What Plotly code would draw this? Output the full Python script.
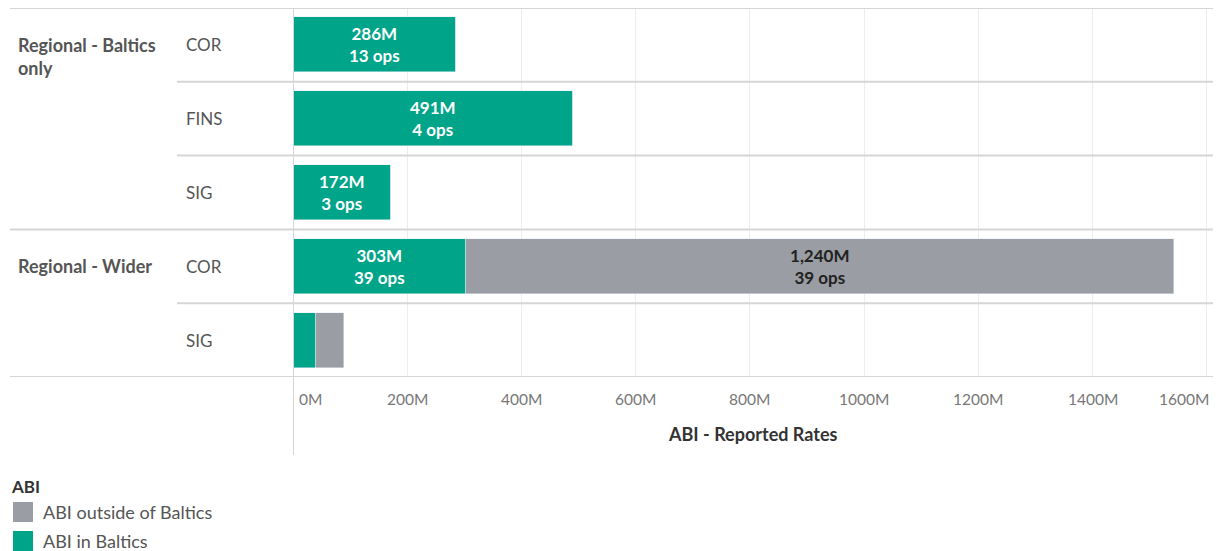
import plotly.graph_objects as go

# --- data -------------------------------------------------------------
groups = ["Regional - Baltics only", "Regional - Baltics only", "Regional - Baltics only",
          "Regional - Wider", "Regional - Wider"]
segments = ["COR", "FINS", "SIG", "COR", "SIG"]
abi_in_baltics = [286, 491, 172, 303, 41]          # M
abi_outside_baltics = [0, 0, 0, 1240, 48]          # M
ops_in_baltics = [13, 4, 3, 39, None]
ops_outside_baltics = [None, None, None, 39, None]
tick_values = [0, 200, 400, 600, 800, 1000, 1200, 1400, 1600]
tick_labels = ["0M", "200M", "400M", "600M", "800M", "1000M", "1200M", "1400M", "1600M"]
axis_title = "ABI - Reported Rates"
legend_title = "ABI"
series_names = ["ABI outside of Baltics", "ABI in Baltics"]

# --- style ------------------------------------------------------------
W, H = 1224, 551
FONT = "Lato"
TEAL = "#00a488"
GREY = "#9a9da3"
LINE = "#d6d6d6"
GRID = "#ececec"
TXT = "#555555"

x_left_px, x_right_px = 293, 1213
y_top_px, y_bot_px = 8, 377
x_max = 1611


def py(px):
    return 1 - px / H


def px_x(px):
    return px / W


rows = list(range(len(segments)))


def bar_text(vals, ops):
    out = []
    for v, o in zip(vals, ops):
        out.append(f"<b>{v:,}M<br>{o} ops</b>" if o is not None else "")
    return out


fig = go.Figure()
fig.add_trace(go.Bar(
    x=abi_in_baltics, y=rows, orientation="h", marker_color=TEAL, width=0.745,
    name=series_names[1],
    text=bar_text(abi_in_baltics, ops_in_baltics), textposition="inside",
    insidetextanchor="middle", textangle=0, constraintext="none",
    textfont=dict(family=FONT, size=17, color="white"),
    showlegend=False, hoverinfo="skip"))
fig.add_trace(go.Bar(
    x=abi_outside_baltics, y=rows, orientation="h", marker_color=GREY, width=0.745,
    name=series_names[0],
    text=bar_text(abi_outside_baltics, ops_outside_baltics), textposition="inside",
    insidetextanchor="middle", textangle=0, constraintext="none",
    textfont=dict(family=FONT, size=17, color="#222222"),
    showlegend=False, hoverinfo="skip"))

shapes = []
# row separators
for i in rows[:-1]:
    full = groups[i] != groups[i + 1]
    shapes.append(dict(type="line", xref="paper", yref="y",
                       x0=px_x(10 if full else 177), x1=px_x(x_right_px),
                       y0=i + 0.5, y1=i + 0.5, line=dict(color=LINE, width=2)))
# top and bottom borders
for yy in [-0.5, len(rows) - 0.5]:
    shapes.append(dict(type="line", xref="paper", yref="y",
                       x0=px_x(10), x1=px_x(x_right_px), y0=yy, y1=yy,
                       line=dict(color=LINE, width=2)))
# vertical axis rule
shapes.append(dict(type="line", xref="x", yref="paper", x0=0, x1=0,
                   y0=py(455), y1=py(y_top_px), line=dict(color=LINE, width=2)))

annotations = []
# segment labels
for i, s in zip(rows, segments):
    annotations.append(dict(xref="paper", yref="y", x=px_x(184), y=i, text=s,
                            showarrow=False, xanchor="left", yanchor="middle",
                            font=dict(family=FONT, size=17, color=TXT)))
# group labels
seen = set()
for i, g in zip(rows, groups):
    if g in seen:
        continue
    seen.add(g)
    txt = g.replace("Baltics only", "Baltics<br>only")
    annotations.append(dict(xref="paper", yref="y", x=px_x(16), y=i, text=f"<b>{txt}</b>",
                            showarrow=False, xanchor="left", yanchor="top", yshift=13,
                            align="left", font=dict(family=FONT, size=18, color=TXT)))
# x tick labels (ends kept inside the pane)
for k, (tv, tl) in enumerate(zip(tick_values, tick_labels)):
    anchor = "left" if k == 0 else ("right" if k == len(tick_values) - 1 else "center")
    shift = 4 if k == 0 else (4 if k == len(tick_values) - 1 else 0)
    annotations.append(dict(xref="x", yref="paper", x=tv, y=py(399), text=tl,
                            showarrow=False, xanchor=anchor, yanchor="middle", xshift=shift,
                            font=dict(family=FONT, size=15.5, color="#777777")))
annotations.append(dict(xref="paper", yref="paper",
                        x=px_x((x_left_px + x_right_px) / 2), y=py(434),
                        text=f"<b>{axis_title}</b>", showarrow=False,
                        xanchor="center", yanchor="middle",
                        font=dict(family=FONT, size=18, color="#333333")))

# colour legend: title, swatches and names
annotations.append(dict(xref="paper", yref="paper", x=px_x(9), y=py(486),
                        text=f"<b>{legend_title}</b>", showarrow=False,
                        xanchor="left", yanchor="middle",
                        font=dict(family=FONT, size=17, color="#333333")))
for k, (name, col) in enumerate(zip(series_names, [GREY, TEAL])):
    yc = 512 + 29 * k
    shapes.append(dict(type="rect", xref="paper", yref="paper",
                       x0=px_x(13), x1=px_x(33), y0=py(yc + 10), y1=py(yc - 10),
                       line=dict(width=0), fillcolor=col))
    annotations.append(dict(xref="paper", yref="paper", x=px_x(41), y=py(yc),
                            text=name, showarrow=False, xanchor="left", yanchor="middle",
                            font=dict(family=FONT, size=18, color=TXT)))

fig.update_layout(
    width=W, height=H, margin=dict(l=0, r=0, t=0, b=0),
    paper_bgcolor="white", plot_bgcolor="white", barmode="stack", bargap=0,
    font=dict(family=FONT, color=TXT), showlegend=False,
    xaxis=dict(domain=[px_x(x_left_px), px_x(x_right_px)], range=[0, x_max],
               tickvals=tick_values, showticklabels=False, showgrid=True,
               gridcolor=GRID, gridwidth=1, zeroline=False, showline=False,
               fixedrange=True),
    yaxis=dict(domain=[py(y_bot_px), py(y_top_px)], range=[len(rows) - 0.5, -0.5],
               showticklabels=False, showgrid=False, zeroline=False, showline=False,
               fixedrange=True),
    shapes=shapes, annotations=annotations,
)

fig.write_html("out.html")
